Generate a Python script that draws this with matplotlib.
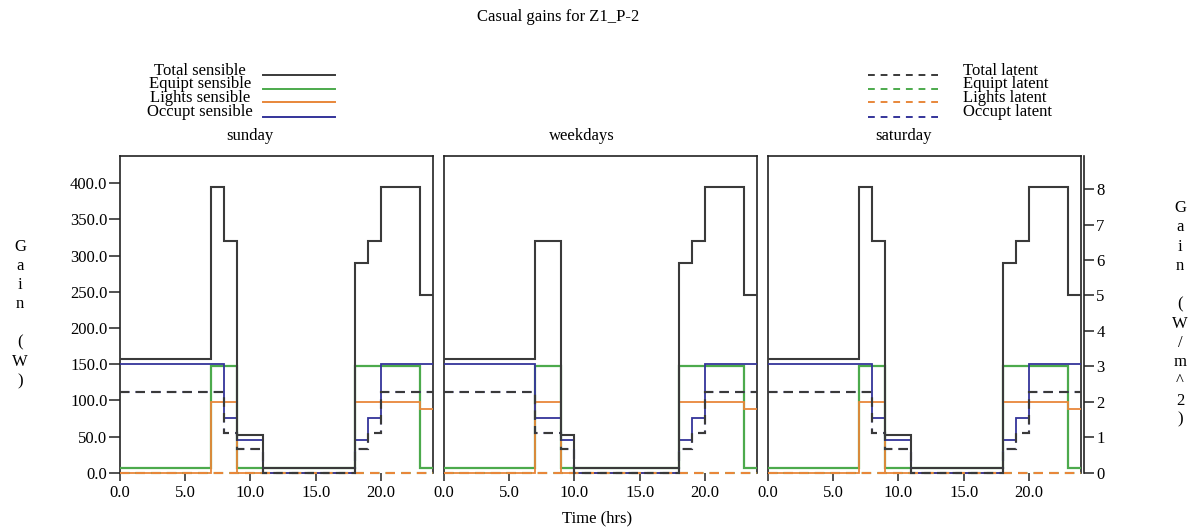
import matplotlib

matplotlib.use("Agg")
import matplotlib.pyplot as plt
from matplotlib.lines import Line2D

W, H = 1194, 531
FLOOR_AREA = 49.0  # m^2, links the W and W/m^2 axes
Y_MAX = 437.7

# step edges (hours) and the value held over each interval
SUNDAY_EDGES = [0, 7, 8, 9, 11, 18, 19, 20, 23, 24]
SUNDAY_TOTAL_SENS = [157, 395, 320, 52, 7, 290, 320, 395, 245]
SUNDAY_EQUIP_SENS = [7, 147, 147, 7, 7, 147, 147, 147, 7]
SUNDAY_LIGHTS_SENS = [0, 98, 98, 0, 0, 98, 98, 98, 88]
SUNDAY_OCCUP_SENS = [150, 150, 75, 45, 0, 45, 75, 150, 150]
SUNDAY_TOTAL_LAT = [111, 111, 55, 33, 0, 33, 55, 111, 111]
SUNDAY_EQUIP_LAT = [0, 0, 0, 0, 0, 0, 0, 0, 0]
SUNDAY_LIGHTS_LAT = [0, 0, 0, 0, 0, 0, 0, 0, 0]
SUNDAY_OCCUP_LAT = [111, 111, 55, 33, 0, 33, 55, 111, 111]

WEEKDAY_EDGES = [0, 7, 9, 10, 18, 19, 20, 23, 24]
WEEKDAY_TOTAL_SENS = [157, 320, 52, 7, 290, 320, 395, 245]
WEEKDAY_EQUIP_SENS = [7, 147, 7, 7, 147, 147, 147, 7]
WEEKDAY_LIGHTS_SENS = [0, 98, 0, 0, 98, 98, 98, 88]
WEEKDAY_OCCUP_SENS = [150, 75, 45, 0, 45, 75, 150, 150]
WEEKDAY_TOTAL_LAT = [111, 55, 33, 0, 33, 55, 111, 111]
WEEKDAY_EQUIP_LAT = [0, 0, 0, 0, 0, 0, 0, 0]
WEEKDAY_LIGHTS_LAT = [0, 0, 0, 0, 0, 0, 0, 0]
WEEKDAY_OCCUP_LAT = [111, 55, 33, 0, 33, 55, 111, 111]

SATURDAY_EDGES = [0, 7, 8, 9, 11, 18, 19, 20, 23, 24]
SATURDAY_TOTAL_SENS = [157, 395, 320, 52, 7, 290, 320, 395, 245]
SATURDAY_EQUIP_SENS = [7, 147, 147, 7, 7, 147, 147, 147, 7]
SATURDAY_LIGHTS_SENS = [0, 98, 98, 0, 0, 98, 98, 98, 88]
SATURDAY_OCCUP_SENS = [150, 150, 75, 45, 0, 45, 75, 150, 150]
SATURDAY_TOTAL_LAT = [111, 111, 55, 33, 0, 33, 55, 111, 111]
SATURDAY_EQUIP_LAT = [0, 0, 0, 0, 0, 0, 0, 0, 0]
SATURDAY_LIGHTS_LAT = [0, 0, 0, 0, 0, 0, 0, 0, 0]
SATURDAY_OCCUP_LAT = [111, 111, 55, 33, 0, 33, 55, 111, 111]

X_TICKS = [0, 5, 10, 15, 20]
Y_TICKS = [0, 50, 100, 150, 200, 250, 300, 350, 400]
Y2_TICKS = [0, 1, 2, 3, 4, 5, 6, 7, 8]

SENS_LABELS = ["Total sensible", "Equipt sensible", "Lights sensible", "Occupt sensible"]
LAT_LABELS = ["Total latent", "Equipt latent", "Lights latent", "Occupt latent"]

C_TOTAL = "#3a3a3a"
C_EQUIP = "#4caa4c"
C_LIGHTS = "#e8873a"
C_OCCUP = "#34349a"
COLORS = [C_TOTAL, C_EQUIP, C_LIGHTS, C_OCCUP]
DASH = (0, (4.5, 3.0))

FONT = "Liberation Serif"
plt.rcParams["font.family"] = FONT

DAYS = [
    ("sunday", 120, 250, SUNDAY_EDGES,
     [SUNDAY_TOTAL_SENS, SUNDAY_EQUIP_SENS, SUNDAY_LIGHTS_SENS, SUNDAY_OCCUP_SENS],
     [SUNDAY_TOTAL_LAT, SUNDAY_EQUIP_LAT, SUNDAY_LIGHTS_LAT, SUNDAY_OCCUP_LAT]),
    ("weekdays", 444, 582, WEEKDAY_EDGES,
     [WEEKDAY_TOTAL_SENS, WEEKDAY_EQUIP_SENS, WEEKDAY_LIGHTS_SENS, WEEKDAY_OCCUP_SENS],
     [WEEKDAY_TOTAL_LAT, WEEKDAY_EQUIP_LAT, WEEKDAY_LIGHTS_LAT, WEEKDAY_OCCUP_LAT]),
    ("saturday", 768, 904, SATURDAY_EDGES,
     [SATURDAY_TOTAL_SENS, SATURDAY_EQUIP_SENS, SATURDAY_LIGHTS_SENS, SATURDAY_OCCUP_SENS],
     [SATURDAY_TOTAL_LAT, SATURDAY_EQUIP_LAT, SATURDAY_LIGHTS_LAT, SATURDAY_OCCUP_LAT]),
]

PANEL_W = 313
PANEL_TOP = 156
PANEL_BOTTOM = 472.7


def fx(px):
    return px / W


def fy(py):
    return 1 - py / H


fig = plt.figure(figsize=(W / 100, H / 100), dpi=100)

axes = []
for i, (name, left, title_x, edges, sens, lat) in enumerate(DAYS):
    ax = fig.add_axes([fx(left), fy(PANEL_BOTTOM), PANEL_W / W, (PANEL_BOTTOM - PANEL_TOP) / H])
    axes.append(ax)

    # sensible: equip, lights, occupant underneath, total on top
    for vals, col, lw in [(sens[1], C_EQUIP, 1.6), (sens[2], C_LIGHTS, 1.3),
                          (sens[3], C_OCCUP, 1.3), (sens[0], C_TOTAL, 1.5)]:
        ax.stairs(vals, edges, baseline=None, color=col, linewidth=lw, clip_on=False, zorder=3)
    # latent: occupant, equip, lights, then total
    for vals, col in [(lat[3], C_OCCUP), (lat[1], C_EQUIP), (lat[2], C_LIGHTS), (lat[0], C_TOTAL)]:
        ax.stairs(vals, edges, baseline=None, color=col, linewidth=1.5, linestyle=DASH,
                  clip_on=False, zorder=4)

    ax.set_xlim(0, 24)
    ax.set_ylim(0, Y_MAX)
    ax.spines["bottom"].set_visible(False)
    for s in ("left", "right", "top"):
        ax.spines[s].set_color("#222222")
        ax.spines[s].set_linewidth(1.2)
    ax.set_xticks(X_TICKS)
    ax.set_xticklabels([f"{t:.1f}" for t in X_TICKS])
    ax.tick_params(axis="x", direction="out", length=6, width=1.1, pad=3, labelsize=12,
                   color="#222222")
    if i == 0:
        ax.set_yticks(Y_TICKS)
        ax.set_yticklabels([f"{t:.1f}" for t in Y_TICKS])
        ax.tick_params(axis="y", direction="out", length=8, width=1.1, pad=1, labelsize=12,
                       color="#222222")
    else:
        ax.set_yticks([])

    fig.text(fx(title_x), fy(136), name, ha="center", va="center", fontsize=12)

# right hand axis in W/m^2
ax2 = axes[-1].twinx()
ax2.set_ylim(0, Y_MAX / FLOOR_AREA)
for s in ("left", "top", "bottom"):
    ax2.spines[s].set_visible(False)
ax2.spines["right"].set_position(("outward", 2))
ax2.spines["right"].set_linewidth(1.2)
ax2.spines["right"].set_color("#222222")
ax2.set_yticks(Y2_TICKS)
ax2.set_yticklabels([str(t) for t in Y2_TICKS])
ax2.tick_params(axis="y", direction="out", length=7, width=1.1, pad=2, labelsize=12,
                color="#222222")

# legends drawn by hand as text + line samples
row_y = [75, 88.5, 102.3, 116.5]
for k, (lab, col) in enumerate(zip(SENS_LABELS, COLORS)):
    fig.text(fx(200), fy(row_y[k] - 4), lab, ha="center", va="center", fontsize=12)
    fig.add_artist(Line2D([fx(263), fx(335)], [fy(row_y[k])] * 2, color=col, linewidth=1.4))
for k, (lab, col) in enumerate(zip(LAT_LABELS, COLORS)):
    fig.text(fx(963), fy(row_y[k] - 4), lab, ha="left", va="center", fontsize=12)
    fig.add_artist(Line2D([fx(868), fx(940)], [fy(row_y[k])] * 2, color=col, linewidth=1.4,
                          linestyle=(0, (3.5, 3.0))))

fig.text(fx(558), fy(17), "Casual gains for Z1_P-2", ha="center", va="center", fontsize=12)
fig.text(fx(597), fy(518), "Time (hrs)", ha="center", va="center", fontsize=12)
fig.text(fx(20), fy(314), "\n".join("Gain (W)"), ha="center", va="center", fontsize=12,
         linespacing=1.27)
fig.text(fx(1180), fy(314), "\n".join("Gain (W/m^2)"), ha="center", va="center", fontsize=12,
         linespacing=1.27)

fig.savefig("out.png", dpi=100, facecolor="white")
